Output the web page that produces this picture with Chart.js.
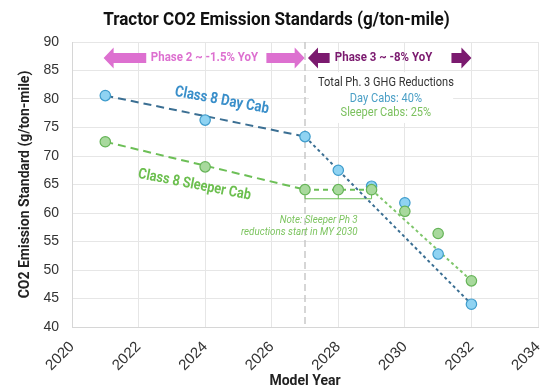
<!DOCTYPE html>
<html>
<head>
<meta charset="utf-8">
<title>Tractor CO2 Emission Standards</title>
<style>
  html, body { margin: 0; padding: 0; background: #ffffff; }
  canvas { display: block; }
</style>
<script src="https://cdn.jsdelivr.net/npm/chart.js@4.4.1/dist/chart.umd.min.js"></script>
</head>
<body>
<canvas id="chart" width="553" height="390"></canvas>
<script>
// Model years and the g/ton-mile standard for each cab type
const modelYears    = [2021, 2024, 2027, 2028, 2029, 2030, 2031, 2032];
const dayCabStd     = [80.6, 76.3, 73.4, 67.5, 64.7, 61.8, 52.8, 44.0];
const sleeperCabStd = [72.5, 68.1, 64.1, 64.1, 64.1, 60.3, 56.4, 48.1];

// Axis ticks
const yearTicks = [2020, 2022, 2024, 2026, 2028, 2030, 2032, 2034];
const stdTicks  = [40, 45, 50, 55, 60, 65, 70, 75, 80, 85, 90];

// Phase 3 begins with MY 2027
const phaseBoundary = 2027;

const SANS  = "Roboto, 'Liberation Sans', sans-serif";
const PLAIN = "'Liberation Sans', Arial, sans-serif";

const DAY_FILL = '#8fd3f2', DAY_EDGE = '#3f9ccc', DAY_LINE = '#3b6f93', DAY_TEXT = '#3a8fca';
const SLP_FILL = '#a8d99d', SLP_EDGE = '#66b458', SLP_LINE = '#6cbf56', SLP_LINE2 = '#7fc66b', SLP_TEXT = '#6cbf4f';
const PINK = '#dd70d0', PURPLE = '#7b1a6f';

const toPoints = (vals) => modelYears.map((yr, i) => ({ x: yr, y: vals[i] }));
const segment = (vals, from, to) => [
  { x: modelYears[from], y: vals[from] },
  { x: modelYears[to],   y: vals[to] }
];

const trend = (data, color, dash) => ({
  type: 'line', data, borderColor: color, borderWidth: 2, borderDash: dash,
  pointRadius: 0, fill: false, showLine: true, order: 5
});

// Single-sided block arrow: tip at xTip, flat end at xEnd
function blockArrow(ctx, xTip, xEnd, yc, color) {
  const dir = xEnd > xTip ? 1 : -1;
  const head = 10, headH = 21, shaftH = 10;
  const xh = xTip + dir * head;
  ctx.fillStyle = color;
  ctx.beginPath();
  ctx.moveTo(xTip, yc);
  ctx.lineTo(xh, yc - headH / 2);
  ctx.lineTo(xh, yc - shaftH / 2);
  ctx.lineTo(xEnd, yc - shaftH / 2);
  ctx.lineTo(xEnd, yc + shaftH / 2);
  ctx.lineTo(xh, yc + shaftH / 2);
  ctx.lineTo(xh, yc + headH / 2);
  ctx.closePath();
  ctx.fill();
}

// Text in a narrow cut: Roboto squeezed horizontally
function label(ctx, str, px, py, font, color, align, rotDeg, squeeze) {
  ctx.save();
  ctx.translate(px, py);
  if (rotDeg) ctx.rotate(rotDeg * Math.PI / 180);
  ctx.scale(squeeze || 0.85, 1);
  ctx.font = font;
  ctx.fillStyle = color;
  ctx.textAlign = align || 'center';
  ctx.textBaseline = 'middle';
  ctx.fillText(str, 0, 0);
  ctx.restore();
}

const annotations = {
  id: 'annotations',
  beforeDatasetsDraw(chart) {
    const { ctx, chartArea: a, scales: { x, y } } = chart;
    ctx.save();

    // white panel behind the reduction summary
    ctx.fillStyle = '#ffffff';
    ctx.fillRect(x.getPixelForValue(2027.12), y.getPixelForValue(84.7),
                 x.getPixelForValue(2031.45) - x.getPixelForValue(2027.12),
                 y.getPixelForValue(75.8) - y.getPixelForValue(84.7));

    // Phase 2 / Phase 3 boundary
    const bx = x.getPixelForValue(phaseBoundary);
    ctx.strokeStyle = '#c9c9c9';
    ctx.lineWidth = 1.5;
    ctx.setLineDash([7, 4]);
    ctx.beginPath();
    ctx.moveTo(bx, a.top);
    ctx.lineTo(bx, a.bottom);
    ctx.stroke();
    ctx.setLineDash([]);

    // bracket under the flat sleeper-cab years
    const i0 = modelYears.indexOf(2027), i1 = modelYears.indexOf(2028), i2 = modelYears.indexOf(2029);
    const yb = y.getPixelForValue(62.5);
    ctx.strokeStyle = SLP_LINE;
    ctx.lineWidth = 1;
    ctx.beginPath();
    ctx.moveTo(x.getPixelForValue(modelYears[i0]), y.getPixelForValue(sleeperCabStd[i0]));
    ctx.lineTo(x.getPixelForValue(modelYears[i0]), yb);
    ctx.lineTo(x.getPixelForValue(modelYears[i2]), yb);
    ctx.lineTo(x.getPixelForValue(modelYears[i2]), yb - 5);
    ctx.moveTo(x.getPixelForValue(modelYears[i1]), yb);
    ctx.lineTo(x.getPixelForValue(modelYears[i1]), yb - 5);
    ctx.stroke();
    ctx.restore();
  },
  afterDatasetsDraw(chart) {
    const { ctx, width, scales: { x, y } } = chart;
    const X = (v) => x.getPixelForValue(v), Y = (v) => y.getPixelForValue(v);
    ctx.save();

    // chart title
    label(ctx, 'Tractor CO2 Emission Standards (g/ton-mile)', width / 2, 20,
          `bold 19px ${SANS}`, '#111111', 'center', 0, 0.9);

    // Phase 2 arrow
    const ay = Y(87.2);
    blockArrow(ctx, X(2020.95), X(2022.23), ay, PINK);
    blockArrow(ctx, X(2026.99), X(2025.84), ay, PINK);
    label(ctx, 'Phase 2 ~ -1.5% YoY', X(2023.98), ay, `bold 13.5px ${SANS}`, PINK);

    // Phase 3 arrow
    blockArrow(ctx, X(2027.09), X(2027.74), ay, PURPLE);
    blockArrow(ctx, X(2032.0), X(2031.4), ay, PURPLE);
    label(ctx, 'Phase 3 ~ -8% YoY', X(2029.36), ay, `bold 13.5px ${SANS}`, PURPLE);

    // reduction summary
    label(ctx, 'Total Ph. 3 GHG Reductions', X(2029.43), Y(82.85), `13px ${SANS}`, '#333333');
    label(ctx, 'Day Cabs: 40%', X(2029.43), Y(80.1), `13px ${SANS}`, '#4a9fc6');
    label(ctx, 'Sleeper Cabs: 25%', X(2029.43), Y(77.6), `13px ${SANS}`, '#7cc15f');

    // series names along the Phase 2 trend
    label(ctx, 'Class 8 Day Cab', X(2024.5), Y(79.7), `bold 15.5px ${SANS}`, DAY_TEXT, 'center', 10.6);
    label(ctx, 'Class 8 Sleeper Cab', X(2023.68), Y(64.9), `bold 15px ${SANS}`, SLP_TEXT, 'center', 11);

    // sleeper note
    label(ctx, 'Note: Sleeper Ph 3', X(2028.58), Y(58.8), `italic 11.5px ${SANS}`, '#7cc45f', 'right');
    label(ctx, 'reductions start in MY 2030', X(2028.58), Y(56.6), `italic 11.5px ${SANS}`, '#7cc45f', 'right');
    ctx.restore();
  }
};

new Chart(document.getElementById('chart'), {
  type: 'scatter',
  data: {
    datasets: [
      {
        label: 'Class 8 Sleeper Cab', data: toPoints(sleeperCabStd),
        backgroundColor: SLP_FILL, borderColor: SLP_EDGE, borderWidth: 1.2,
        pointRadius: 5.2, order: 1
      },
      {
        label: 'Class 8 Day Cab', data: toPoints(dayCabStd),
        backgroundColor: DAY_FILL, borderColor: DAY_EDGE, borderWidth: 1.2,
        pointRadius: 5.2, order: 2
      },
      trend(segment(dayCabStd, 0, 2), DAY_LINE, [8, 5]),
      trend(segment(dayCabStd, 2, 7), DAY_LINE, [3, 3]),
      trend(segment(sleeperCabStd, 0, 2), SLP_LINE, [8, 5]),
      trend(segment(sleeperCabStd, 2, 4), SLP_LINE, [5, 4]),
      trend(segment(sleeperCabStd, 4, 7), SLP_LINE2, [3, 3])
    ]
  },
  options: {
    responsive: false,
    animation: false,
    devicePixelRatio: 1,
    layout: { padding: { left: 0, right: 15, top: 42, bottom: 0 } },
    plugins: {
      legend: { display: false },
      tooltip: { enabled: false },
      title: { display: false }
    },
    scales: {
      x: {
        type: 'linear', min: 2020, max: 2034,
        afterBuildTicks: (s) => { s.ticks = yearTicks.map(v => ({ value: v })); },
        afterFit: (s) => { s.height = 63; s.paddingRight = 0; },
        grid: { color: '#e6e6e6', drawTicks: false },
        border: { color: '#d6d6d6' },
        ticks: {
          minRotation: 45, maxRotation: 45, padding: 11, color: '#333333',
          font: { family: PLAIN, size: 15 },
          callback: (v) => String(v)
        },
        title: {
          display: true, text: 'Model Year', color: '#222222',
          font: { family: SANS, size: 14, weight: 'bold', lineHeight: 1.2 },
          padding: { top: 0, bottom: 0 }
        }
      },
      y: {
        type: 'linear', min: 40, max: 90,
        afterBuildTicks: (s) => { s.ticks = stdTicks.map(v => ({ value: v })); },
        afterFit: (s) => { s.width = 72; },
        grid: { color: '#e6e6e6', drawTicks: false },
        border: { color: '#d6d6d6' },
        ticks: { padding: 13, color: '#333333', font: { family: PLAIN, size: 14 } },
        title: {
          display: true, text: 'CO2 Emission Standard (g/ton-mile)', color: '#222222',
          font: { family: SANS, size: 14, weight: 'bold', lineHeight: 1.2 },
          padding: { top: 17, bottom: 0 }
        }
      }
    }
  },
  plugins: [annotations]
});
</script>
</body>
</html>
